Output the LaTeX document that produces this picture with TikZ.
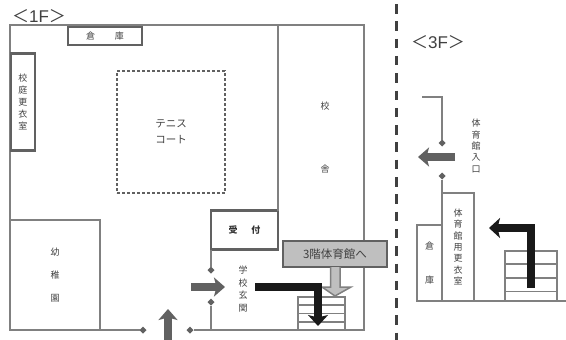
\documentclass[tikz,border=0pt]{standalone}
\usepackage{fontspec}
\usetikzlibrary{arrows.meta,shapes.geometric,calc}
\newfontfamily\cjk{Noto Sans CJK JP}
\newfontfamily\latinfont{Liberation Sans}
\definecolor{wallgray}{gray}{0.5}
\definecolor{markgray}{gray}{0.38}
\definecolor{labelgray}{gray}{0.25}
\definecolor{boxgray}{gray}{0.75}
\tikzset{
  wall/.style={draw=wallgray,line width=1.7pt},
  room/.style={wall,rectangle,inner sep=0pt,outer sep=0pt,align=center,text=labelgray,font=\cjk\fontsize{9}{12}\selectfont},
  heavyroom/.style={room,draw=markgray,line width=2.3pt},
  label/.style={inner sep=0pt,align=center,text=labelgray,font=\cjk\fontsize{9}{12}\selectfont},
  floorlabel/.style={inner sep=0pt,text=black!75,font=\latinfont\fontsize{17}{19}\selectfont},
  post/.style={diamond,fill=markgray,minimum size=7pt,inner sep=0pt,outer sep=0pt},
  grayarrow/.style={draw=markgray,line width=8pt,-{Stealth[length=11pt,width=19pt,inset=2.5pt]}},
  blackarrow/.style={draw=black!90,line width=7.5pt,-{Stealth[length=11pt,width=20pt,inset=2.5pt]}},
}
\begin{document}
\begin{tikzpicture}[x=1pt,y=-1pt]
    \useasboundingbox (0,0) rectangle (566,340);
    % Floor titles
    \node[floorlabel] (title1f) at (39,16.5) {{\cjk＜}1F{\cjk＞}};
    \node[floorlabel] (title3f) at (438,42) {{\cjk＜}3F{\cjk＞}};
    % Divider
    \coordinate (divtop) at (396,0);
    \coordinate (divbot) at (396,340);
    \draw[draw=black!75,line width=3pt,dash pattern=on 9.5pt off 7.8pt,dash phase=-4pt] (divtop) -- (divbot);
    % 1F outer walls
    \coordinate (nw) at (10,25);
    \coordinate (ne) at (364,25);
    \coordinate (se) at (364,330);
    \coordinate (sw) at (10,330);
    \coordinate (schooltop) at (278,25);
    \node[post] (gateleft) at (143,330) {};
    \node[post] (gateright) at (190,330) {};
    \draw[wall] (gateleft) -- (sw) -- (nw) -- (ne) -- (se) -- (gateright);
    % 1F rooms
    \node[heavyroom,minimum width=74pt,minimum height=18pt] (storage1) at (105,36) {倉\hspace{20pt}庫};
    \node[heavyroom,minimum width=24pt,minimum height=97pt] (locker1) at (23,102) {校\\庭\\更\\衣\\室};
    \node[room,minimum width=90pt,minimum height=110pt,font=\cjk\fontsize{9}{23}\selectfont] (kinder) at (55,275) {幼\\稚\\園};
    \node[heavyroom,minimum width=67pt,minimum height=39pt,text=black!80,font=\cjk\bfseries\fontsize{9}{12}\selectfont] (desk) at (244.5,230) {受\hspace{14pt}付};
    \draw[wall] (schooltop) -- (desk.north -| schooltop);
    % Tennis court
    \node[draw=markgray,line width=1.5pt,densely dashed,minimum width=108pt,minimum height=122pt,inner sep=0pt,align=center,text=labelgray,font=\cjk\fontsize{10.5}{16}\selectfont] (court) at (171,132) {テニス\\コート};
    \node[label,font=\cjk\fontsize{9}{63}\selectfont] (school) at (325,138) {校\\舎};
    % Entrance
    \node[post] (posttop) at (211,270) {};
    \node[post] (postbot) at (211,302) {};
    \draw[wall] (posttop |- desk.south) -- (posttop);
    \draw[wall] (postbot) -- (postbot |- gateright);
    \node[label,font=\cjk\fontsize{9}{12.5}\selectfont] (entrance) at (243,289) {学\\校\\玄\\関};
    \coordinate (inright0) at (191,287);
    \coordinate (inright1) at (225,287);
    \draw[grayarrow] (inright0) -- (inright1);
    \coordinate (inup0) at (168,345);
    \coordinate (inup1) at (168,309);
    \draw[grayarrow] (inup0) -- (inup1);
    % 1F stairs
    \node[wall,rectangle,minimum width=47pt,minimum height=33pt,inner sep=0pt] (stairs1) at (321.5,313.5) {};
    \foreach \y in {0.25,0.5,0.75}
      \draw[wall] ($(stairs1.north west)!\y!(stairs1.south west)$) -- ($(stairs1.north east)!\y!(stairs1.south east)$);
    % Sign
    \node[draw=markgray,line width=2pt,fill=boxgray,minimum width=104pt,minimum height=26pt,inner sep=0pt,text=labelgray,font=\cjk\fontsize{11.5}{13}\selectfont] (sign) at (335,254) {3階体育館へ};
    \coordinate (signtip) at (335,296);
    \draw[draw=wallgray,line width=1.5pt,fill=boxgray] (330.5,267) -- (330.5,287) -- (322,287) -- (signtip) -- (351,287) -- (340,287) -- (340,267);
    % Black route 1F
    \coordinate (route0) at (255,287);
    \coordinate (route1) at (318,287);
    \coordinate (route2) at (318,326);
    \draw[blackarrow] (route0) -- (route1) -- (route2);
    % 3F
    \coordinate (hook0) at (422,97);
    \coordinate (hook1) at (442,97);
    \node[post] (hookend) at (442,143) {};
    \draw[wall] (hook0) -- (hook1) -- (hookend);
    \coordinate (gym0) at (455,157);
    \coordinate (gym1) at (418,157);
    \draw[grayarrow] (gym0) -- (gym1);
    \node[label,font=\cjk\fontsize{9}{11.3}\selectfont] (gymdoor) at (476,146) {体\\育\\館\\入\\口};
    \node[room,minimum width=32pt,minimum height=108pt,font=\cjk\fontsize{9}{11.4}\selectfont] (locker3) at (458,247) {体\\育\\館\\用\\更\\衣\\室};
    \node[room,minimum width=25pt,minimum height=76pt,font=\cjk\fontsize{9}{34}\selectfont] (storage3) at (429.5,263) {倉\\庫};
    \node[post] (gympost) at (442,176) {};
    \draw[wall] (gympost) -- (gympost |- locker3.north);
    % 3F stairs
    \node[wall,rectangle,minimum width=52pt,minimum height=50pt,inner sep=0pt] (stairs3) at (531,276) {};
    \foreach \y in {0.27,0.54,0.8}
      \draw[wall] ($(stairs3.north west)!\y!(stairs3.south west)$) -- ($(stairs3.north east)!\y!(stairs3.south east)$);
    \coordinate (floor3) at (566,301);
    \draw[wall] (storage3.south west) -- (floor3);
    % Black route 3F
    \coordinate (up0) at (531,288);
    \coordinate (up1) at (531,228);
    \coordinate (up2) at (489,228);
    \draw[blackarrow] (up0) -- (up1) -- (up2);
\end{tikzpicture}
\end{document}
